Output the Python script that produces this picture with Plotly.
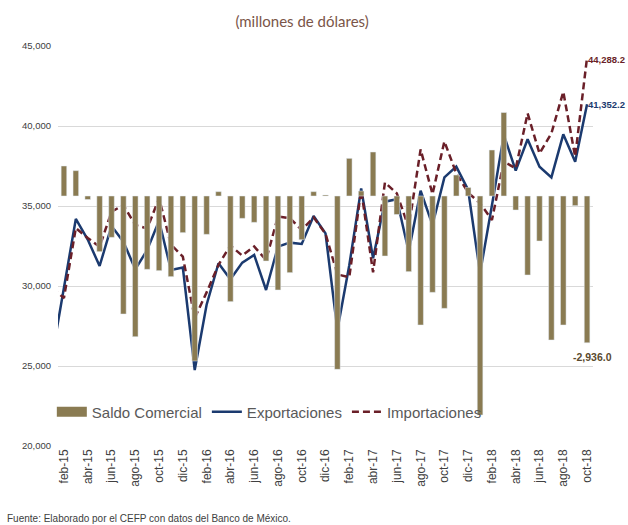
import plotly.graph_objects as go

meses = ["ene", "feb", "mar", "abr", "may", "jun", "jul", "ago", "sep", "oct", "nov", "dic"]
periodos = [f"{m}-{a}" for a in ["15", "16", "17", "18"] for m in meses][:46]  # ene-15 .. oct-18

exportaciones = [25600, 29850, 34190, 32900, 31250, 33750, 32770, 31040, 32250, 34080, 31000, 31150,
                 24750, 28830, 31420, 30420, 31460, 31940, 29750, 32460, 32710, 32625, 34375, 33290,
                 27250, 31300, 36100, 31730, 35270, 35420, 32140, 35960, 33810, 36790, 37460, 36000,
                 30790, 35050, 39440, 37210, 39170, 37460, 36790, 39480, 37770, 41352.2]

importaciones = [29875, 29250, 33625, 33000, 32450, 34640, 35060, 33810, 33600, 35480, 32600, 31830,
                 28000, 29600, 31330, 32530, 31900, 32470, 31625, 34340, 34240, 33500, 34290, 33270,
                 30720, 30550, 36000, 30850, 36470, 35790, 33650, 38540, 35740, 39040, 37040, 35830,
                 35170, 34125, 37770, 37350, 40790, 38290, 39540, 42140, 38080, 44288.2]

saldo = [None, 600, 507, -70, -1113, -827, -2360, -2813, -1467, -1493, -1613, -733,
         -3300, -767, 87, -2113, -447, -527, -1300, -1880, -1533, -875, 87, 20,
         -3467, 753, 100, 880, -1200, -370, -1513, -2580, -1927, -2247, 420, 170,
         -4380, 920, 1670, -280, -1580, -900, -2880, -2580, -193, -2936.0]

ticks_x = periodos[1::2]
ticks_y = [20000, 25000, 30000, 35000, 40000, 45000]

C_BAR = "#8a7b52"
C_EXP = "#1b3a6f"
C_IMP = "#6a1f28"

fig = go.Figure()
fig.add_trace(go.Bar(x=periodos, y=saldo, name="Saldo Comercial", marker_color=C_BAR,
                     yaxis="y2", width=0.47, legendgroup="saldo", showlegend=False))
# legend-only entry drawn as a wide block, like the reference legend key
fig.add_trace(go.Scatter(x=[None], y=[None], name="Saldo Comercial", mode="lines",
                         line=dict(color=C_BAR, width=12), legendgroup="saldo", showlegend=True))
fig.add_trace(go.Scatter(x=periodos, y=exportaciones, name="Exportaciones", mode="lines",
                         line=dict(color=C_EXP, width=2.5)))
fig.add_trace(go.Scatter(x=periodos, y=importaciones, name="Importaciones", mode="lines",
                         line=dict(color=C_IMP, width=2.5, dash="7px,4px")))

fig.update_layout(
    width=628, height=525,
    margin=dict(l=58, r=35, t=46, b=79),
    paper_bgcolor="white", plot_bgcolor="white",
    font=dict(family="Liberation Sans, Arial, sans-serif", color="#404040"),
    title=dict(text="(millones de dólares)", x=0.481, xanchor="center", y=0.958, yanchor="middle",
               font=dict(size=15, color="#7a5548", family="Lato, Liberation Sans, sans-serif")),
    xaxis=dict(type="category", range=[0.5, 45.5], tickmode="array", tickvals=ticks_x, ticktext=ticks_x,
               tickangle=-90, tickfont=dict(size=12, color="#404040"), showgrid=False,
               showline=False, ticks="", zeroline=False),
    yaxis=dict(range=[20000, 45000], tickvals=ticks_y, tickformat=",d", showgrid=True,
               gridcolor="#d9d9d9", gridwidth=1, zeroline=False, showline=False,
               tickfont=dict(size=9.5, color="#404040"), ticks="", ticklabelstandoff=6),
    yaxis2=dict(range=[-5000, 3000], overlaying="y", side="right", showgrid=False,
                showticklabels=False, zeroline=False, showline=False),
    bargap=0.5,
    showlegend=True,
    legend=dict(orientation="h", x=0.395, xanchor="center", y=0.085, yanchor="middle",
                font=dict(size=15, color="#595959"), bgcolor="rgba(0,0,0,0)",
                traceorder="normal", itemwidth=30),
)

fig.add_annotation(xref="paper", x=1.0636, y=importaciones[-1], text="<b>44,288.2</b>", showarrow=False,
                   xanchor="right", yanchor="middle", yshift=-2,
                   font=dict(size=9.5, color=C_IMP))
fig.add_annotation(xref="paper", x=1.0636, y=exportaciones[-1], text="<b>41,352.2</b>", showarrow=False,
                   xanchor="right", yanchor="middle", yshift=0,
                   font=dict(size=9.5, color=C_EXP))
fig.add_annotation(x=periodos[-1], y=saldo[-1], yref="y2", text="<b>-2,936.0</b>", showarrow=False,
                   xanchor="center", yanchor="top", xshift=5, yshift=-6,
                   font=dict(size=10.5, color="#5a4a2e"))
fig.add_annotation(xref="paper", yref="paper", x=-0.099, y=-0.18, xanchor="left", yanchor="middle",
                   text="Fuente: Elaborado por el CEFP con datos del Banco de México.", showarrow=False,
                   font=dict(size=10, color="#404040"))

fig.write_html("out.html", config={"displayModeBar": False},
               post_script="document.body.style.margin='0px';")
